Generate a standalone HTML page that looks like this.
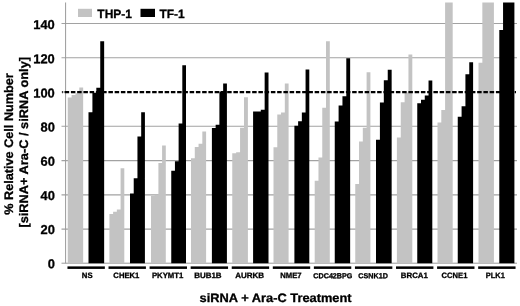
<!DOCTYPE html>
<html><head><meta charset="utf-8"><title>chart</title>
<style>
html,body{margin:0;padding:0;background:#fff;}
body{width:520px;height:306px;overflow:hidden;}
svg{display:block;transform:translateZ(0);will-change:transform;}
text{font-family:"Liberation Sans",sans-serif;font-weight:bold;fill:#000;stroke:#000;stroke-width:0.3px;text-rendering:geometricPrecision;}
</style></head><body>
<svg width="520" height="306" viewBox="0 0 520 306">
<defs><filter id="soft" x="0" y="0" width="520" height="306" filterUnits="userSpaceOnUse"><feGaussianBlur stdDeviation="0.32"/></filter></defs>
<rect x="0" y="0" width="520" height="306" fill="#fff"/>
<g filter="url(#soft)">
<rect x="-5" y="-5" width="530" height="316" fill="#fff"/>
<line x1="61.5" x2="517" y1="229.13" y2="229.13" stroke="#a2a2a2" stroke-width="1.1"/>
<line x1="61.5" x2="517" y1="194.86" y2="194.86" stroke="#a2a2a2" stroke-width="1.1"/>
<line x1="61.5" x2="517" y1="160.59" y2="160.59" stroke="#a2a2a2" stroke-width="1.1"/>
<line x1="61.5" x2="517" y1="126.32" y2="126.32" stroke="#a2a2a2" stroke-width="1.1"/>
<line x1="61.5" x2="517" y1="57.78" y2="57.78" stroke="#a2a2a2" stroke-width="1.1"/>
<line x1="61.5" x2="517" y1="23.51" y2="23.51" stroke="#a2a2a2" stroke-width="1.1"/>
<line x1="61.5" x2="66" y1="92" y2="92" stroke="#a2a2a2" stroke-width="1.1"/>
<line x1="65.6" x2="65.6" y1="2.5" y2="263.3" stroke="#9a9a9a" stroke-width="1.0"/>
<line x1="61.5" x2="517" y1="263.2" y2="263.2" stroke="#9a9a9a" stroke-width="1.0"/>
<path d="M67.75 263.3V97.61H71.60V95.06H75.45V93.36H79.30V87.58H83.15V263.3Z" fill="#c3c3c3"/>
<path d="M88.50 263.3V112.23H92.41V92.68H96.33V87.75H100.24V41.17H104.15V263.3Z" fill="#000"/>
<rect x="67.45" y="266.4" width="37.4" height="2.5" fill="#000"/>
<text transform="translate(81.85,277.95) rotate(0.03)" font-size="7.8" textLength="10.80" lengthAdjust="spacingAndGlyphs">NS</text>
<path d="M109.40 263.3V214.06H113.12V211.85H116.85V209.47H120.58V168.16H124.30V263.3Z" fill="#c3c3c3"/>
<path d="M130.00 263.3V193.49H133.72V178.19H137.45V136.54H141.18V112.23H144.90V263.3Z" fill="#000"/>
<rect x="108.52" y="266.4" width="37.4" height="2.5" fill="#000"/>
<text transform="translate(113.35,277.95) rotate(0.03)" font-size="7.8" textLength="26.05" lengthAdjust="spacingAndGlyphs">CHEK1</text>
<path d="M151.00 263.3V195.70H154.70V194.85H158.40V163.06H162.10V145.55H165.80V263.3Z" fill="#c3c3c3"/>
<path d="M171.25 263.3V170.71H174.94V161.36H178.62V123.45H182.31V65.14H186.00V263.3Z" fill="#000"/>
<rect x="149.59" y="266.4" width="37.4" height="2.5" fill="#000"/>
<text transform="translate(151.90,277.95) rotate(0.03)" font-size="7.8" textLength="31.50" lengthAdjust="spacingAndGlyphs">PKYMT1</text>
<path d="M191.00 263.3V158.30H194.78V146.91H198.55V143.85H202.32V131.44H206.10V263.3Z" fill="#c3c3c3"/>
<path d="M211.90 263.3V128.04H215.65V124.64H219.40V91.49H223.15V83.50H226.90V263.3Z" fill="#000"/>
<rect x="190.66" y="266.4" width="37.4" height="2.5" fill="#000"/>
<text transform="translate(194.20,277.95) rotate(0.03)" font-size="7.8" textLength="27.40" lengthAdjust="spacingAndGlyphs">BUB1B</text>
<path d="M232.25 263.3V153.20H236.16V152.18H240.07V127.70H243.99V97.27H247.90V263.3Z" fill="#c3c3c3"/>
<path d="M253.10 263.3V111.55H256.95V111.55H260.80V109.85H264.65V72.62H268.50V263.3Z" fill="#000"/>
<rect x="231.73" y="266.4" width="37.4" height="2.5" fill="#000"/>
<text transform="translate(235.20,277.95) rotate(0.03)" font-size="7.8" textLength="28.90" lengthAdjust="spacingAndGlyphs">AURKB</text>
<path d="M273.50 263.3V147.25H277.27V114.44H281.05V112.57H284.82V83.50H288.60V263.3Z" fill="#c3c3c3"/>
<path d="M294.40 263.3V125.66H298.12V121.24H301.85V112.57H305.57V69.39H309.30V263.3Z" fill="#000"/>
<rect x="272.80" y="266.4" width="37.4" height="2.5" fill="#000"/>
<text transform="translate(280.20,277.95) rotate(0.03)" font-size="7.8" textLength="21.40" lengthAdjust="spacingAndGlyphs">NME7</text>
<path d="M314.70 263.3V180.74H318.47V157.45H322.25V107.64H326.02V41.34H329.80V263.3Z" fill="#c3c3c3"/>
<path d="M334.75 263.3V121.41H338.60V105.60H342.45V96.25H346.30V58.17H350.15V263.3Z" fill="#000"/>
<rect x="313.87" y="266.4" width="37.4" height="2.5" fill="#000"/>
<text transform="translate(313.35,278.15) rotate(0.03)" font-size="7.3" textLength="39.05" lengthAdjust="spacingAndGlyphs">CDC42BPG</text>
<path d="M355.25 263.3V183.97H359.04V141.47H362.82V127.70H366.61V72.28H370.40V263.3Z" fill="#c3c3c3"/>
<path d="M376.00 263.3V139.77H379.91V102.54H383.82V80.27H387.74V69.73H391.65V263.3Z" fill="#000"/>
<rect x="354.94" y="266.4" width="37.4" height="2.5" fill="#000"/>
<text transform="translate(358.35,278.15) rotate(0.03)" font-size="7.3" textLength="29.55" lengthAdjust="spacingAndGlyphs">CSNK1D</text>
<path d="M396.90 263.3V137.56H400.75V102.20H404.60V92.51H408.45V54.60H412.30V263.3Z" fill="#c3c3c3"/>
<path d="M417.25 263.3V103.22H421.01V99.65H424.77V95.40H428.54V80.44H432.30V263.3Z" fill="#000"/>
<rect x="396.01" y="266.4" width="37.4" height="2.5" fill="#000"/>
<text transform="translate(400.85,277.95) rotate(0.03)" font-size="7.8" textLength="27.05" lengthAdjust="spacingAndGlyphs">BRCA1</text>
<path d="M437.50 263.3V122.43H441.30V110.02H445.10V2.50H448.90V2.50H452.70V263.3Z" fill="#c3c3c3"/>
<path d="M457.75 263.3V116.82H461.59V106.28H465.42V74.15H469.26V62.25H473.10V263.3Z" fill="#000"/>
<rect x="437.08" y="266.4" width="37.4" height="2.5" fill="#000"/>
<text transform="translate(441.60,277.95) rotate(0.03)" font-size="7.8" textLength="25.80" lengthAdjust="spacingAndGlyphs">CCNE1</text>
<path d="M478.50 263.3V62.76H482.35V2.50H486.20V2.50H490.05V2.50H493.90V263.3Z" fill="#c3c3c3"/>
<path d="M499.30 263.3V30.12H503.07V2.50H506.85V2.50H510.62V2.50H514.40V263.3Z" fill="#000"/>
<rect x="478.15" y="266.4" width="37.4" height="2.5" fill="#000"/>
<text transform="translate(485.85,277.95) rotate(0.03)" font-size="7.8" textLength="19.05" lengthAdjust="spacingAndGlyphs">PLK1</text>
<line x1="62.2" x2="516" y1="92.1" y2="92.1" stroke="#000" stroke-width="2.1" stroke-dasharray="4.5 1.75" stroke-dashoffset="3.8"/>
<text transform="translate(54.8,268.30) rotate(0.03)" font-size="12.9" text-anchor="end">0</text>
<text transform="translate(54.8,234.12) rotate(0.03)" font-size="12.9" text-anchor="end">20</text>
<text transform="translate(54.8,199.94) rotate(0.03)" font-size="12.9" text-anchor="end">40</text>
<text transform="translate(54.8,165.76) rotate(0.03)" font-size="12.9" text-anchor="end">60</text>
<text transform="translate(54.8,131.58) rotate(0.03)" font-size="12.9" text-anchor="end">80</text>
<text transform="translate(54.8,97.40) rotate(0.03)" font-size="12.9" text-anchor="end">100</text>
<text transform="translate(54.8,63.22) rotate(0.03)" font-size="12.9" text-anchor="end">120</text>
<text transform="translate(54.8,29.04) rotate(0.03)" font-size="12.9" text-anchor="end">140</text>
<rect x="78" y="8.8" width="14" height="8.2" fill="#c3c3c3"/>
<text x="97.3" y="18" font-size="12">THP-1</text>
<rect x="140.5" y="8.8" width="14.5" height="8.2" fill="#000"/>
<text x="159.4" y="18" font-size="12">TF-1</text>
<text x="199.6" y="302.4" font-size="12.2" textLength="152" lengthAdjust="spacingAndGlyphs">siRNA + Ara-C Treatment</text>
<text transform="translate(12.9,214.8) rotate(-90)" font-size="12.4" textLength="141.6" lengthAdjust="spacingAndGlyphs">% Relative Cell Number</text>
<text transform="translate(27.9,227.6) rotate(-90)" font-size="12.4" textLength="170.6" lengthAdjust="spacingAndGlyphs">[siRNA+ Ara-C / siRNA only]</text>
</g>
</svg>
</body></html>
